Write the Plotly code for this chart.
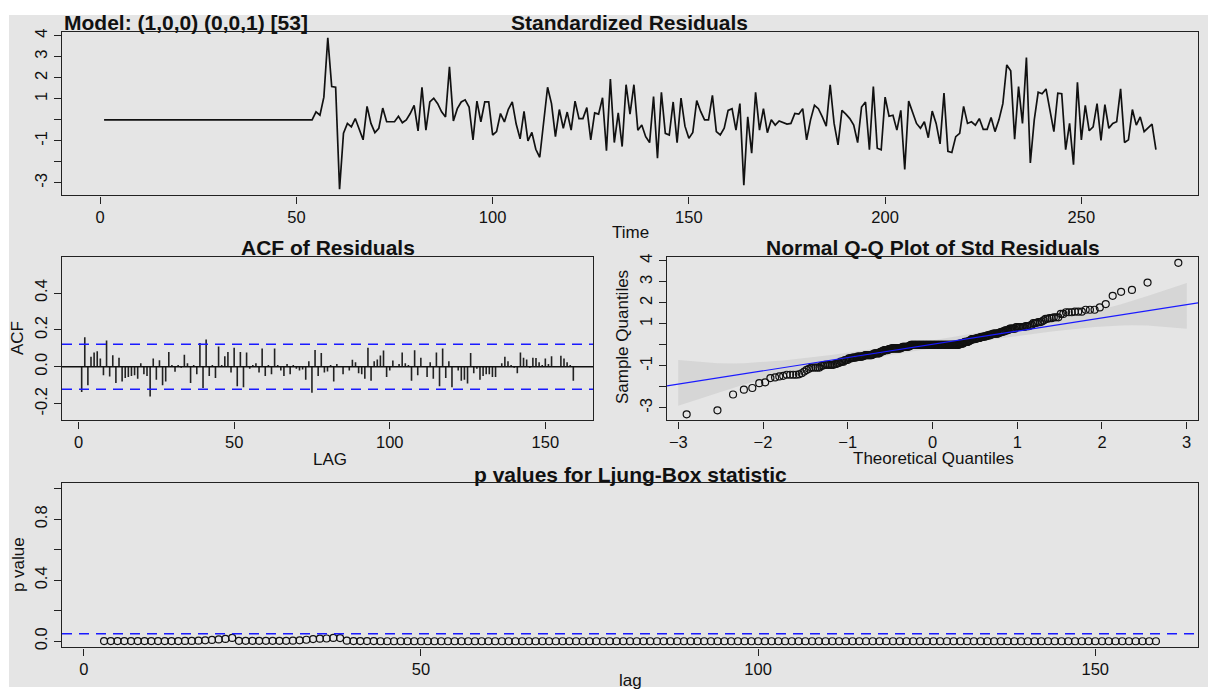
import math
from statistics import NormalDist
import plotly.graph_objects as go

W, H = 1208, 690

# ---------------- data ----------------
model_title = "Model: (1,0,0) (0,0,1) [53]"

time_index = list(range(1, 270))
std_resid = [
    0.0, 0.0, 0.0, 0.0, 0.0, 0.0, 0.0, 0.0, 0.0, 0.0,
    0.0, 0.0, 0.0, 0.0, 0.0, 0.0, 0.0, 0.0, 0.0, 0.0,
    0.0, 0.0, 0.0, 0.0, 0.0, 0.0, 0.0, 0.0, 0.0, 0.0,
    0.0, 0.0, 0.0, 0.0, 0.0, 0.0, 0.0, 0.0, 0.0, 0.0,
    0.0, 0.0, 0.0, 0.0, 0.0, 0.0, 0.0, 0.0, 0.0, 0.0,
    0.0, 0.0, 0.0, 0.0,
    0.38, 0.22, 1.08, 3.9, 1.58, 1.55, -3.3, -0.64, -0.17, -0.33,          # 55-64
    0.06, -0.49, -0.95, 0.64, -0.17, -0.61, -0.4, 0.56, -0.09, -0.09,      # 65-74
    -0.09, 0.17, -0.14, 0.0, 0.3, 0.69, -0.53, 1.55, -0.49, 0.85,          # 75-84
    1.03, 0.77, 0.38, 0.14, 2.52, -0.05, 0.53, 0.85, 0.95, 0.61,           # 85-94
    -0.95, 0.89, -0.09, 0.85, 0.85, -0.72, -0.56, 0.30, -0.1, 0.5,         # 95-104
    0.85, -0.2, -0.9, 0.4, -1.0, -0.6, -1.4, -1.78, -0.17, 1.55,           # 105-114
    0.77, -0.8, 0.49, -0.4, 0.37, -0.49, 0.89, 0.06, 0.06, 0.58,           # 115-124
    -0.95, 0.33, 0.27, 1.05, -1.47, 1.94, -1.08, 0.33, -1.27, 1.67,        # 125-134
    0.27, 1.67, -0.49, -0.25, -0.8, -1.08, 1.11, -1.82, 1.31, -0.64,       # 135-144
    -0.72, 0.85, -1.08, 1.03, -0.3, -0.88, -0.6, 0.92, 0.4, 0.0,           # 145-154
    0.0, 1.16, -0.56, -0.72, -0.4, 0.45, 0.53, -0.49, 0.77, -3.11,         # 155-164
    0.14, -1.58, 1.31, -0.49, 0.53, -0.61, 0.0, -0.25, -0.05, -0.14,       # 165-174
    -0.2, -0.17, 0.3, 0.27, 0.53, -0.95, 0.0, 0.69, 0.53, 0.14,            # 175-184
    -0.3, 1.67, -0.17, -1.19, 0.45, 0.27, 0.06, -0.25, -1.08, 0.61,        # 185-194
    0.85, -1.42, 1.58, -1.35, -1.42, 1.08, 0.17, 0.22, -0.49, 0.45,        # 195-204
    -2.36, 0.89, 0.33, -0.17, -0.4, -0.09, -0.85, 0.42, -0.17, -1.14,      # 205-214
    1.27, -1.5, -1.55, -0.8, -0.64, 0.64, -0.17, -0.09, -0.25, 0.06,       # 215-224
    -0.45, -0.45, 0.11, -0.56, 0.0, 0.77, 2.61, 2.33, -0.92, 1.58,         # 225-234
    -0.17, 2.96, -2.05, 0.0, 1.31, 1.24, 1.47, 0.38, -0.56, 1.27,          # 235-244
    1.24, -1.42, -0.17, -2.13, 1.78, -0.95, 0.69, -0.52, -0.33, 0.77,      # 245-254
    -0.98, 0.72, -0.4, -0.17, -0.09, 1.47, -1.08, -0.95, 0.49, -0.25,      # 255-264
    0.14, -0.56, -0.4, -0.2, -1.42,                                        # 265-269
]

acf_lags = list(range(1, 160))
acf_values = [
    -0.136, 0.161, -0.10, 0.055, 0.078, 0.084, 0.045, -0.045, 0.143, -0.052,
    0.063, -0.088, 0.05, -0.08, -0.06, -0.055, -0.05, -0.045, -0.065, 0.02,
    -0.04, -0.05, -0.161, 0.045, -0.07, 0.036, -0.1, -0.08, 0.08, 0.01,
    -0.027, 0.01, -0.005, 0.065, 0.02, -0.088, 0.01, -0.04, 0.13, -0.115,
    0.148, -0.05, 0.01, -0.06, 0.11, 0.01, 0.057, 0.08, -0.03, 0.104,
    -0.105, 0.08, -0.11, 0.078, -0.01, 0.01, 0.02, -0.03, 0.1, -0.05,
    0.01, -0.04, 0.1, 0.01, -0.02, -0.05, 0.015, -0.04, 0.01, -0.01,
    -0.02, -0.015, -0.07, 0.03, -0.14, 0.092, -0.05, 0.075, -0.03, -0.025,
    0.01, -0.08, 0.015, 0.005, -0.04, 0.005, -0.02, 0.038, 0.025, -0.035,
    -0.04, -0.065, 0.104, -0.075, 0.03, 0.04, 0.062, 0.089, -0.055, -0.02,
    0.035, 0.005, 0.015, 0.078, 0.02, 0.01, -0.075, 0.09, -0.045, 0.05,
    0.005, -0.055, 0.025, -0.065, 0.078, -0.105, 0.1, -0.06, 0.03, -0.11,
    0.005, -0.02, -0.075, -0.07, -0.09, 0.075, -0.035, -0.01, -0.07, -0.05,
    -0.04, -0.04, -0.055, -0.055, 0.005, 0.02, 0.055, 0.03, 0.01, -0.005,
    -0.035, 0.078, 0.05, 0.04, -0.005, 0.05, 0.048, 0.025, 0.01, 0.045,
    0.015, 0.058, 0.005, 0.005, 0.06, 0.045, 0.025, 0.01, -0.075,
]
acf_ylim = [-0.29, 0.597]

lb_lags = list(range(3, 160))
lb_pvalues = [
    0.001, 0.001, 0.001, 0.001, 0.001, 0.001, 0.001, 0.001, 0.001, 0.001,   # 3-12
    0.001, 0.001, 0.002, 0.002, 0.004, 0.006, 0.009, 0.012, 0.015, 0.022,   # 13-22
    0.003, 0.003, 0.003, 0.003, 0.003, 0.003, 0.003, 0.003, 0.004, 0.006,   # 23-32
    0.010, 0.014, 0.017, 0.018, 0.022, 0.021, 0.004, 0.001, 0.001, 0.001,   # 33-42
    0.001, 0.0, 0.0, 0.0, 0.0, 0.0, 0.0, 0.0, 0.0, 0.0,                     # 43-52
    0.0, 0.0, 0.0, 0.0, 0.0, 0.0, 0.0, 0.0, 0.0, 0.0,
    0.0, 0.0, 0.0, 0.0, 0.0, 0.0, 0.0, 0.0, 0.0, 0.0,
    0.0, 0.0, 0.0, 0.0, 0.0, 0.0, 0.0, 0.0, 0.0, 0.0,
    0.0, 0.0, 0.0, 0.0, 0.0, 0.0, 0.0, 0.0, 0.0, 0.0,
    0.0, 0.0, 0.0, 0.0, 0.0, 0.0, 0.0, 0.0, 0.0, 0.0,
    0.0, 0.0, 0.0, 0.0, 0.0, 0.0, 0.0, 0.0, 0.0, 0.0,
    0.0, 0.0, 0.0, 0.0, 0.0, 0.0, 0.0, 0.0, 0.0, 0.0,
    0.0, 0.0, 0.0, 0.0, 0.0, 0.0, 0.0, 0.0, 0.0, 0.0,
    0.0, 0.0, 0.0, 0.0, 0.0, 0.0, 0.0, 0.0, 0.0, 0.0,
    0.0, 0.0, 0.0, 0.0, 0.0, 0.0, 0.0, 0.0, 0.0, 0.0,
    0.0, 0.0, 0.0, 0.0, 0.0, 0.0, 0.0,                                      # -159
]
lb_sig = 0.05
lb_ylim = [0.0, 1.0]

# ---------------- helpers ----------------
def ext(lo, hi, f=0.04):
    d = (hi - lo) * f
    return [lo - d, hi + d]

def fx(px):
    return px / W

def fy(py):
    return 1 - py / H

FONT = "Liberation Sans, Arial, sans-serif"
INK = "#111111"
BG = "#e5e5e5"
BLUE = "#1a1aff"
TITLE_SIZE = 21
LABEL_SIZE = 17
TICK_SIZE = 16.5

# ---------------- QQ computations (like qqnorm / qqline) ----------------
nd = NormalDist()
n = len(std_resid)
srt = sorted(std_resid)
pp = [(i + 0.5) / n for i in range(n)]
zq = [nd.inv_cdf(p) for p in pp]

def q7(vals, p):
    h = (len(vals) - 1) * p
    lo = int(math.floor(h))
    hi = min(lo + 1, len(vals) - 1)
    return vals[lo] + (h - lo) * (vals[hi] - vals[lo])

y25, y75 = q7(srt, 0.25), q7(srt, 0.75)
x25, x75 = nd.inv_cdf(0.25), nd.inv_cdf(0.75)
b = (y75 - y25) / (x75 - x25)
a = y25 - b * x25
band_mult = 3.9
se = [(b / nd.pdf(z)) * math.sqrt(p * (1 - p) / n) for z, p in zip(zq, pp)]
fit = [a + b * z for z in zq]
upper = [f + band_mult * s for f, s in zip(fit, se)]
lower = [f - band_mult * s for f, s in zip(fit, se)]
zb = list(zq)
zb[0] -= 0.1
zb[-1] += 0.1

# ---------------- figure ----------------
fig = go.Figure()

# top: standardized residuals
fig.add_trace(go.Scatter(x=time_index, y=std_resid, mode="lines",
                         line=dict(color="#111111", width=1.7),
                         xaxis="x", yaxis="y", showlegend=False, hoverinfo="skip"))

# ACF bars
bx, by = [], []
for k, v in zip(acf_lags, acf_values):
    bx += [k, k, None]
    by += [0, v, None]
fig.add_trace(go.Scatter(x=bx, y=by, mode="lines", line=dict(color="#222222", width=1.6),
                         xaxis="x2", yaxis="y2", showlegend=False, hoverinfo="skip"))

# QQ band, points, line
qq_xr = ext(min(zq), max(zq))
qq_yr = ext(min(srt), max(srt))
fig.add_trace(go.Scatter(x=zb + zb[::-1], y=lower + upper[::-1], mode="lines",
                         fill="toself", fillcolor="rgba(153,153,153,0.2)",
                         line=dict(width=0), xaxis="x3", yaxis="y3",
                         showlegend=False, hoverinfo="skip"))
fig.add_trace(go.Scatter(x=zq, y=srt, mode="markers",
                         marker=dict(symbol="circle-open", size=7, color="#111111",
                                     line=dict(width=1.2, color="#111111")),
                         xaxis="x3", yaxis="y3", showlegend=False, hoverinfo="skip"))
fig.add_trace(go.Scatter(x=qq_xr, y=[a + b * qq_xr[0], a + b * qq_xr[1]], mode="lines",
                         line=dict(color=BLUE, width=1.2), xaxis="x3", yaxis="y3",
                         showlegend=False, hoverinfo="skip"))

# Ljung-Box p values
fig.add_trace(go.Scatter(x=lb_lags, y=lb_pvalues, mode="markers",
                         marker=dict(symbol="circle-open", size=7, color="#111111",
                                     line=dict(width=1.2, color="#111111")),
                         xaxis="x4", yaxis="y4", showlegend=False, hoverinfo="skip"))

# reference lines
ci = 2 / math.sqrt(n)
fig.add_shape(type="line", xref="x2 domain", yref="y2", x0=0, x1=1, y0=0, y1=0,
              line=dict(color="#111111", width=1.5))
for s in (ci, -ci):
    fig.add_shape(type="line", xref="x2 domain", yref="y2", x0=0, x1=1, y0=s, y1=s,
                  line=dict(color=BLUE, width=1.5, dash="10px,7px"))
fig.add_shape(type="line", xref="x4 domain", yref="y4", x0=0, x1=1, y0=lb_sig, y1=lb_sig,
              line=dict(color=BLUE, width=1.5, dash="10px,7px"))

# background (white margin at left/top like the reference)
fig.add_shape(type="rect", xref="paper", yref="paper", x0=fx(9), x1=1, y0=0, y1=fy(12),
              fillcolor=BG, line=dict(width=0), layer="below")

tickfont = dict(family=FONT, size=TICK_SIZE, color=INK)
axis_common = dict(showgrid=False, zeroline=False, showline=True, mirror=True,
                   linecolor="#222222", linewidth=1.4, ticks="outside", ticklen=7,
                   tickwidth=1.2, tickcolor="#222222", tickfont=tickfont, fixedrange=True)
yaxis_common = dict(axis_common, tickangle=-90)

top_y = [-3, -2, -1, 0, 1, 2, 3, 4]
top_yt = ["-3", "", "-1", "", "1", "2", "3", "4"]

fig.update_layout(
    width=W, height=H,
    margin=dict(l=0, r=0, t=0, b=0),
    paper_bgcolor="white", plot_bgcolor="rgba(0,0,0,0)",
    font=dict(family=FONT, color=INK),
    xaxis=dict(axis_common, domain=[fx(62), fx(1198)], anchor="y",
               range=ext(min(time_index), max(time_index)),
               tickvals=[0, 50, 100, 150, 200, 250]),
    yaxis=dict(yaxis_common, domain=[fy(194), fy(29)], anchor="x",
               range=ext(min(std_resid), max(std_resid)),
               tickvals=top_y, ticktext=top_yt),
    xaxis2=dict(axis_common, domain=[fx(62), fx(593)], anchor="y2",
                range=ext(min(acf_lags), max(acf_lags)),
                tickvals=[0, 50, 100, 150]),
    yaxis2=dict(yaxis_common, domain=[fy(421), fy(256)], anchor="x2",
                range=acf_ylim, tickvals=[-0.2, 0.0, 0.2, 0.4],
                ticktext=["-0.2", "0.0", "0.2", "0.4"]),
    xaxis3=dict(axis_common, domain=[fx(667), fx(1198)], anchor="y3",
                range=qq_xr, tickvals=[-3, -2, -1, 0, 1, 2, 3]),
    yaxis3=dict(yaxis_common, domain=[fy(421), fy(256)], anchor="x3",
                range=qq_yr, tickvals=top_y, ticktext=top_yt),
    xaxis4=dict(axis_common, domain=[fx(62), fx(1198)], anchor="y4",
                range=ext(min(lb_lags), max(lb_lags)),
                tickvals=[0, 50, 100, 150]),
    yaxis4=dict(yaxis_common, domain=[fy(650), fy(484)], anchor="x4",
                range=ext(lb_ylim[0], lb_ylim[1]),
                tickvals=[0, 0.2, 0.4, 0.6, 0.8, 1.0],
                ticktext=["0.0", "", "0.4", "", "0.8", ""]),
)

def ann(text, px, py, size, bold=False, angle=0, xanchor="center"):
    fig.add_annotation(text=f"<b>{text}</b>" if bold else text,
                       x=fx(px), y=fy(py), xref="paper", yref="paper",
                       xanchor=xanchor, yanchor="middle", textangle=angle,
                       showarrow=False, font=dict(family=FONT, size=size, color=INK))

ann(model_title, 62, 20, TITLE_SIZE, bold=True, xanchor="left")
ann("Standardized Residuals", 629, 20, TITLE_SIZE, bold=True)
ann("ACF of Residuals", 328, 247, TITLE_SIZE, bold=True)
ann("Normal Q-Q Plot of Std Residuals", 933, 247, TITLE_SIZE, bold=True)
ann("p values for Ljung-Box statistic", 630, 476, TITLE_SIZE, bold=True)
ann("Time", 630, 232, LABEL_SIZE)
ann("LAG", 330, 460, LABEL_SIZE)
ann("Theoretical Quantiles", 933, 459, LABEL_SIZE)
ann("lag", 630, 683, LABEL_SIZE)
ann("ACF", 17, 338, LABEL_SIZE, angle=-90)
ann("Sample Quantiles", 622, 337, LABEL_SIZE, angle=-90)
ann("p value", 18, 567, LABEL_SIZE, angle=-90)

fig.write_html("out.html")
